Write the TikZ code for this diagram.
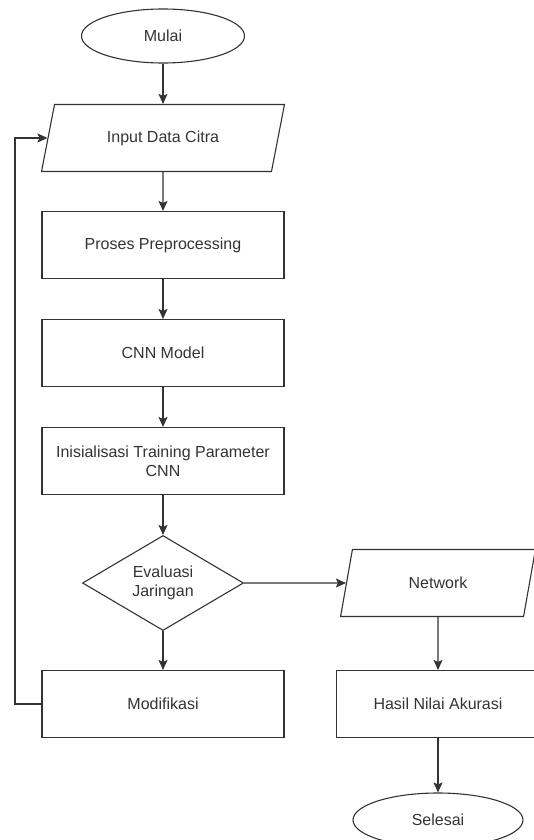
\documentclass[tikz,border=0pt]{standalone}
\usepackage{fontspec}
\setmainfont{Liberation Sans}
\usepackage{tikz}
\usetikzlibrary{positioning}
\usetikzlibrary{arrows.meta}
\usetikzlibrary{shapes.geometric}
\definecolor{ink}{rgb}{0.2,0.2,0.2}

\begin{document}
\begin{tikzpicture}
    [x=1pt, y=-1pt,
    terminal/.style={ellipse, draw=ink, text=ink, minimum width=163pt, minimum height=54pt, inner sep=1pt},
    io/.style={trapezium, trapezium stretches=true, draw=ink, text=ink, minimum height=67pt, inner sep=1pt},
    process/.style={rectangle, draw=ink, text=ink, minimum width=242pt, minimum height=67pt, align=center, inner sep=1pt},
    decision/.style={diamond, aspect=1.7, draw=ink, text=ink, minimum width=161pt, minimum height=95pt, align=center, inner sep=1pt},
    line width=1.1pt, >={Stealth[length=10pt, width=9pt, inset=2pt]},
    font=\fontsize{16}{19}\selectfont]
     \useasboundingbox (0,0) rectangle (534,840);
     %\draw[step=50pt,gray,very thin] (0,0) grid (534,840);
     \node[terminal] (mulai) at (163, 36)   {Mulai};
     \node[io, trapezium left angle=68, trapezium right angle=112, minimum width=243pt]
                     (input) at (163, 138)  {Input Data Citra};
     \node[process]  (prep)  at (163, 245)  {Proses Preprocessing};
     \node[process]  (cnn)   at (163, 353)  {CNN Model};
     \node[process]  (init)  at (163, 461)  {Inisialisasi Training Parameter\\CNN};
     \node[decision] (eval)  at (163, 583)  {Evaluasi\\Jaringan};
     \node[process]  (modif) at (163, 704)  {Modifikasi};
     \node[io, trapezium left angle=73, trapezium right angle=107, minimum width=196pt]
                     (net)   at (438, 583)  {Network};
     \node[process, minimum width=203pt]
                     (hasil) at (438, 704)  {Hasil Nilai Akurasi};
     \node[terminal, minimum width=170pt]
                     (selesai) at (438, 820) {Selesai};
     \coordinate (back) at (15, 704);
     \draw[->, draw=ink] (mulai) -- (input);
     \draw[->, draw=ink] (input) -- (prep);
     \draw[->, draw=ink] (prep) -- (cnn);
     \draw[->, draw=ink] (cnn) -- (init);
     \draw[->, draw=ink] (init) -- (eval);
     \draw[->, draw=ink] (eval) -- (modif);
     \draw[->, draw=ink] (eval) -- (net);
     \draw[->, draw=ink] (net) -- (hasil);
     \draw[->, draw=ink] (hasil) -- (selesai);
     %\draw[->, draw=ink] (modif) -- (eval);
     \draw[->, draw=ink] (modif.west) -- (back) |- (input.west);
\end{tikzpicture}
\end{document}
